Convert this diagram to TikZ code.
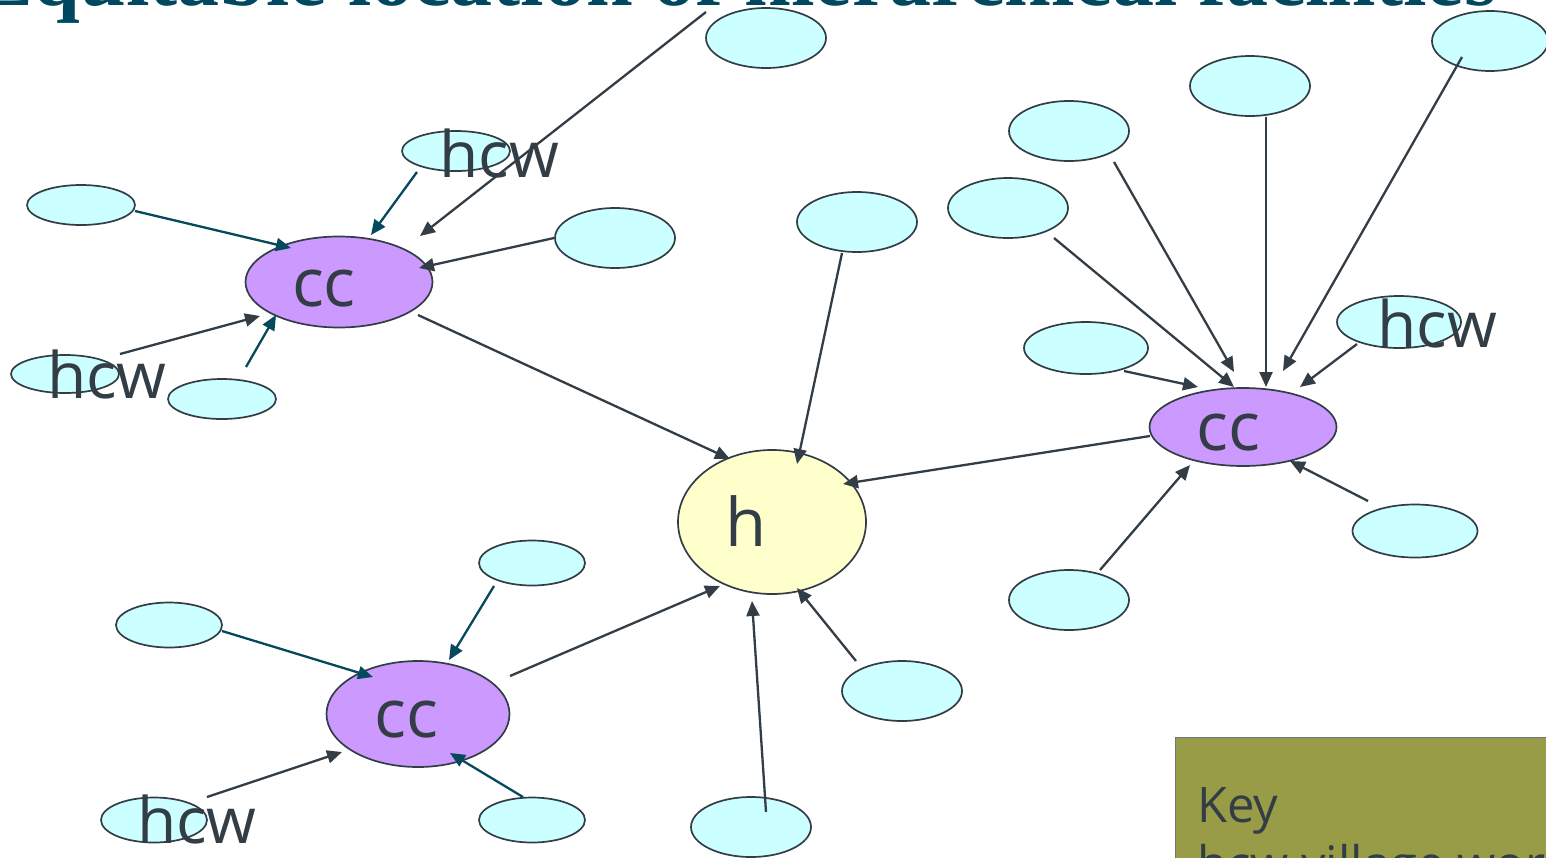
\documentclass[tikz,border=0pt]{standalone}
\usepackage{fontspec}
\setmainfont{Open Sans}
\newfontfamily\titlefont{Liberation Serif}
\usetikzlibrary{shapes.geometric,arrows.meta,calc}
\definecolor{leafc}{RGB}{204,255,255}
\definecolor{ccc}{RGB}{204,153,255}
\definecolor{hospc}{RGB}{255,255,204}
\definecolor{edgec}{RGB}{51,61,69}
\definecolor{tealc}{RGB}{6,72,94}
\definecolor{keyc}{RGB}{153,156,70}
\definecolor{titlec}{RGB}{0,72,96}
\begin{document}
\begin{tikzpicture}[x=1pt,y=-1pt,
  leaf/.style={ellipse, draw=edgec, line width=1.7pt, fill=leafc, inner sep=0pt},
  ccnode/.style={ellipse, draw=edgec, line width=1.7pt, fill=ccc, inner sep=0pt},
  hnode/.style={ellipse, draw=edgec, line width=1.7pt, fill=hospc, inner sep=0pt},
  lab/.style={text=edgec, inner sep=0pt, anchor=base, font=\fontsize{67}{80}\selectfont},
  hcwlab/.style={text=edgec, inner sep=0pt, anchor=base, font=\fontsize{64}{76}\selectfont},
  keylab/.style={text=edgec, inner sep=0pt, anchor=base west, font=\fontsize{49}{59}\selectfont},
  arr/.style={line width=2.3pt, draw=edgec, -{Triangle[length=15pt,width=13pt]}},
  tarr/.style={arr, draw=tealc}]
\useasboundingbox (0,0) rectangle (1546,857);
\clip (0,0) rectangle (1546,857);
\fill[white] (0,0) rectangle (1546,857);

% title
\node[anchor=base east, inner sep=0pt, text=titlec,
      font=\titlefont\bfseries\fontsize{84}{100}\selectfont] (title) at (1497,5)
      {Equitable location of hierarchical facilities};

% leaf ellipses
\node[leaf, minimum width=120pt, minimum height=60pt] (t1) at (766,38) {};
\node[leaf, minimum width=116pt, minimum height=60pt] (t2) at (1490,41) {};
\node[leaf, minimum width=120pt, minimum height=60pt] (t3) at (1250,86) {};
\node[leaf, minimum width=120pt, minimum height=60pt] (t4) at (1069,131) {};
\node[leaf, minimum width=120pt, minimum height=60pt] (t5) at (1008,208) {};
\node[leaf, minimum width=108pt, minimum height=40pt] (hA1) at (456,151) {};
\node[leaf, minimum width=108pt, minimum height=40pt] (l1) at (81,205) {};
\node[leaf, minimum width=120pt, minimum height=60pt] (l2) at (615,238) {};
\node[leaf, minimum width=120pt, minimum height=60pt] (t6) at (857,222) {};
\node[leaf, minimum width=108pt, minimum height=38pt] (hA2) at (65,374) {};
\node[leaf, minimum width=108pt, minimum height=40pt] (l3) at (222,399) {};
\node[leaf, minimum width=124pt, minimum height=52pt] (r1) at (1086,348) {};
\node[leaf, minimum width=124pt, minimum height=52pt] (hB) at (1399,322) {};
\node[leaf, minimum width=125pt, minimum height=53pt] (r2) at (1415,531) {};
\node[leaf, minimum width=120pt, minimum height=60pt] (r3) at (1069,600) {};
\node[leaf, minimum width=106pt, minimum height=45pt] (c1) at (532,563) {};
\node[leaf, minimum width=106pt, minimum height=45pt] (c2) at (169,625) {};
\node[leaf, minimum width=120pt, minimum height=60pt] (b1) at (902,691) {};
\node[leaf, minimum width=106pt, minimum height=45pt] (hC) at (154,820) {};
\node[leaf, minimum width=106pt, minimum height=45pt] (c3) at (532,820) {};
\node[leaf, minimum width=120pt, minimum height=60pt] (b2) at (751,827) {};

% centres
\node[ccnode, minimum width=187pt, minimum height=91pt] (A) at (339,282) {};
\node[ccnode, minimum width=187pt, minimum height=78pt] (B) at (1243,427) {};
\node[ccnode, minimum width=183pt, minimum height=106pt] (C) at (418,714) {};
\node[hnode, minimum width=188pt, minimum height=144pt] (H) at (772,522) {};

% labels
\node[lab] (Atxt) at (324,306) {cc};
\node[lab] (Btxt) at (1228,450) {cc};
\node[lab] (Ctxt) at (406,737) {cc};
\node[lab] (Htxt) at (746,546) {h};
\node[hcwlab] (hA1txt) at (499,177) {hcw};
\node[hcwlab] (hA2txt) at (107,398) {hcw};
\node[hcwlab] (hBtxt) at (1437,347) {hcw};
\node[hcwlab] (hCtxt) at (197,843) {hcw};

% connectors to cc A
\draw[arr]  ($(t1)+(-60,-26)$) -- ($(A)+(81,-46)$);
\draw[tarr] ($(hA1)+(-39,21)$) -- ($(A)+(32,-47)$);
\draw[tarr] ($(l1)+(54,6)$) -- ($(A)+(-48,-34)$);
\draw[arr]  ($(l2)+(-61,0)$) -- ($(A)+(80,-14)$);
\draw[arr]  ($(hA2)+(55,-20)$) -- ($(A)+(-79,34)$);
\draw[tarr] ($(l3)+(24,-32)$) -- ($(A)+(-63,33)$);

% connectors to h
\draw[arr] ($(A)+(79,33)$) -- ($(H)+(-42,-63)$);
\draw[arr] ($(t6)+(-15,31)$) -- ($(H)+(25,-58)$);
\draw[arr] ($(B)+(-93,9)$) -- ($(H)+(71,-38)$);
\draw[arr] ($(C)+(92,-38)$) -- ($(H)+(-52,64)$);
\draw[arr] ($(b2)+(15,-15)$) -- ($(H)+(-20,79)$);
\draw[arr] ($(b1)+(-46,-30)$) -- ($(H)+(25,66)$);

% connectors to cc B
\draw[arr] ($(t5)+(46,30)$) -- ($(B)+(-9,-40)$);
\draw[arr] ($(t4)+(45,31)$) -- ($(B)+(-9,-55)$);
\draw[arr] ($(t3)+(16,31)$) -- ($(B)+(23,-40)$);
\draw[arr] ($(t2)+(-28,16)$) -- ($(B)+(40,-56)$);
\draw[arr] ($(hB)+(-42,22)$) -- ($(B)+(57,-40)$);
\draw[arr] ($(r1)+(38,23)$) -- ($(B)+(-45,-40)$);
\draw[arr] ($(r2)+(-47,-30)$) -- ($(B)+(47,34)$);
\draw[arr] ($(r3)+(31,-30)$) -- ($(B)+(-53,38)$);

% connectors to cc C
\draw[tarr] ($(c1)+(-38,23)$) -- ($(C)+(31,-54)$);
\draw[tarr] ($(c2)+(53,6)$) -- ($(C)+(-45,-37)$);
\draw[arr]  ($(hC)+(53,-23)$) -- ($(C)+(-76,38)$);
\draw[tarr] ($(c3)+(-9,-23)$) -- ($(C)+(32,39)$);

% key
\node[draw=edgec!70, line width=1.4pt, fill=keyc, anchor=north west, inner sep=0pt,
      minimum width=420pt, minimum height=200pt] (key) at (1175,737) {};
\node[keylab] (keytitle) at (1197,822) {Key};
\node[keylab] (keyline) at (1197,881) {hcw village worker};
\end{tikzpicture}
\end{document}
